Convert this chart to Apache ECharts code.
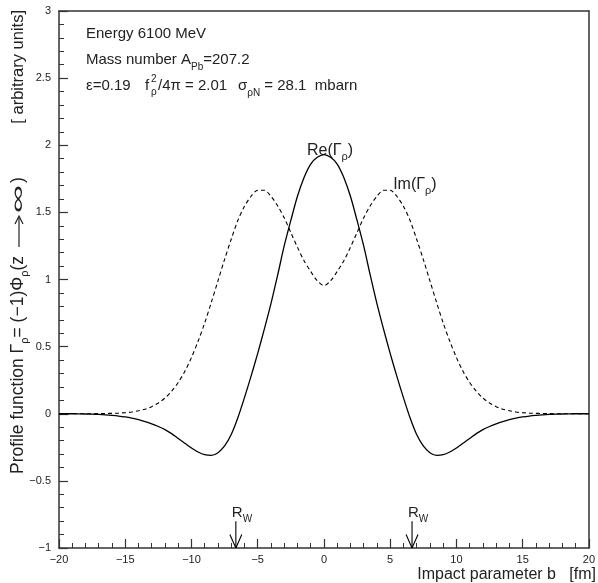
<!DOCTYPE html>
<html><head><meta charset="utf-8">
<script src="https://cdn.jsdelivr.net/npm/echarts@6/dist/echarts.min.js"></script>
<style>html,body{margin:0;padding:0;background:#fff}#c{width:598px;height:583px}</style>
</head><body><div id="c"></div>
<script>
// ---- data ----
var bValues = [-20,-19.5,-19,-18.5,-18,-17.5,-17,-16.5,-16,-15.5,-15,-14.5,-14,-13.5,-13,-12.5,-12,-11.5,-11,-10.5,-10,-9.5,-9,-8.5,-8,-7.5,-7,-6.5,-6,-5.5,-5,-4.5,-4,-3.5,-3,-2.5,-2,-1.5,-1,-0.5,0,0.5,1,1.5,2,2.5,3,3.5,4,4.5,5,5.5,6,6.5,7,7.5,8,8.5,9,9.5,10,10.5,11,11.5,12,12.5,13,13.5,14,14.5,15,15.5,16,16.5,17,17.5,18,18.5,19,19.5,20];
var reValues = [0,0,0,-0.001,-0.002,-0.003,-0.005,-0.008,-0.012,-0.017,-0.024,-0.033,-0.044,-0.058,-0.075,-0.095,-0.118,-0.148,-0.185,-0.22,-0.255,-0.285,-0.305,-0.31,-0.29,-0.24,-0.155,-0.03,0.12,0.28,0.45,0.63,0.82,1.03,1.25,1.44,1.62,1.76,1.86,1.91,1.93,1.91,1.86,1.76,1.62,1.44,1.25,1.03,0.82,0.63,0.45,0.28,0.12,-0.03,-0.155,-0.24,-0.29,-0.31,-0.305,-0.285,-0.255,-0.22,-0.185,-0.148,-0.118,-0.095,-0.075,-0.058,-0.044,-0.033,-0.024,-0.017,-0.012,-0.008,-0.005,-0.003,-0.002,-0.001,0,0,0];
var imValues = [0,0,0,0,0,0,0.001,0.002,0.003,0.005,0.008,0.013,0.022,0.034,0.053,0.08,0.117,0.168,0.233,0.316,0.419,0.54,0.677,0.83,0.99,1.15,1.30,1.44,1.545,1.62,1.665,1.665,1.62,1.55,1.46,1.35,1.24,1.14,1.06,0.99,0.955,0.99,1.06,1.14,1.24,1.35,1.46,1.55,1.62,1.665,1.665,1.62,1.545,1.44,1.30,1.15,0.99,0.83,0.677,0.54,0.419,0.316,0.233,0.168,0.117,0.08,0.053,0.034,0.022,0.013,0.008,0.005,0.003,0.002,0.001,0,0,0,0,0,0];
var rwPositions = [-6.65, 6.65];

function pairs(xs, ys){ return xs.map(function(x,i){return [x, ys[i]];}); }
function fmt(v){ return v < 0 ? '\u2212' + String(-v) : String(v); }

var FONT = 'Liberation Sans';
var AX = '#333';
var TXT = '#222';
var chart = echarts.init(document.getElementById('c'), null, {renderer:'canvas'});

var series = [
  {type:'line', data: pairs(bValues, reValues), smooth: 0.3, showSymbol:false, symbol:'none',
   lineStyle:{color:'#000', width:1.3, type:'solid'}, z:3},
  {type:'line', data: pairs(bValues, imValues), smooth: 0.3, showSymbol:false, symbol:'none',
   lineStyle:{color:'#000', width:1.1, type:[4,3]}, z:3}
];
rwPositions.forEach(function(p){
  series.push({type:'line', data:[[p,-0.8],[p,-1]], symbol:'none', lineStyle:{color:'#000', width:1.1}});
  series.push({type:'line', data:[[p-0.45,-0.9],[p,-1],[p+0.45,-0.9]], symbol:'none', lineStyle:{color:'#000', width:1.1}});
});

chart.setOption({
  animation:false,
  grid: {left:59, right:2, top:11, bottom:35, containLabel:false},
  xAxis: [
    {type:'value', min:-20, max:20, interval:5, position:'bottom',
     axisLine:{onZero:false, lineStyle:{color:AX, width:1.5}},
     axisTick:{inside:true, length:9, lineStyle:{color:AX, width:1.2}},
     minorTick:{show:true, splitNumber:5, length:5, lineStyle:{color:AX, width:1}},
     axisLabel:{fontFamily:FONT, fontSize:11, color:TXT, margin:6, formatter:fmt},
     splitLine:{show:false}},
    {type:'value', min:-20, max:20, position:'top',
     axisLine:{onZero:false, lineStyle:{color:AX, width:1.5}},
     axisTick:{show:false}, axisLabel:{show:false}, splitLine:{show:false}}
  ],
  yAxis: [
    {type:'value', min:-1, max:3, interval:0.5, position:'left',
     axisLine:{onZero:false, lineStyle:{color:AX, width:1.5}},
     axisTick:{inside:true, length:9, lineStyle:{color:AX, width:1.2}},
     minorTick:{show:true, splitNumber:5, length:5, lineStyle:{color:AX, width:1}},
     axisLabel:{fontFamily:FONT, fontSize:11, color:TXT, margin:8, formatter:fmt},
     splitLine:{show:false}},
    {type:'value', min:-1, max:3, position:'right',
     axisLine:{onZero:false, lineStyle:{color:AX, width:1.5}},
     axisTick:{show:false}, axisLabel:{show:false}, splitLine:{show:false}}
  ],
  series: series
});

function px(x,y){ return chart.convertToPixel({gridIndex:0}, [x,y]); }
function mkRich(fs, ss){
  return {
    n:{fontFamily:FONT, fontSize:fs, fill:TXT, color:TXT, lineHeight:24, verticalAlign:'middle'},
    s:{fontFamily:FONT, fontSize:ss, fill:TXT, color:TXT, lineHeight:ss, verticalAlign:'bottom'},
    u:{fontFamily:FONT, fontSize:ss, fill:TXT, color:TXT, lineHeight:ss, verticalAlign:'top'}
  };
}
function txt(str, x, y, opts){
  opts = opts || {};
  var o = {type:'text', x:x, y:y, silent:true,
    style:{text:str, rich:mkRich(opts.fs||15, opts.ss||10), fontFamily:FONT, fontSize:opts.fs||15, fill:TXT,
      align:opts.align||'left', verticalAlign:opts.va||'middle'}};
  if (opts.rotation) o.rotation = opts.rotation;
  if (opts.scaleX) o.scaleX = opts.scaleX;
  return o;
}
var g = [];
g.push(txt('{n|Energy 6100 MeV}', 86, 34));
g.push(txt('{n|Mass number A}{s|Pb}{n|=207.2}', 86, 60));
// third line, pieces
g.push(txt('{n|\u03b5=0.19}', 86, 86));
g.push(txt('{n|f}', 145, 86));
g.push(txt('\u03c1', 151, 92, {fs:10}));
g.push(txt('2', 151, 79, {fs:10}));
g.push(txt('{n|/4\u03c0 = 2.01}', 158, 86));
g.push(txt('{n|\u03c3}{s|\u03c1N}{n| = 28.1  mbarn}', 238, 86));

var pRe = px(0, 1.95);
g.push(txt('{n|Re(\u0393}{s|\u03c1}{n|)}', pRe[0]-17, pRe[1]-1, {fs:16, ss:11}));
var pIm = px(5.0, 1.72);
g.push(txt('{n|Im(\u0393}{s|\u03c1}{n|)}', pIm[0]+3, pIm[1]+2, {fs:16, ss:11}));
rwPositions.forEach(function(p){
  var q = px(p, -0.72);
  g.push(txt('{n|R}{s|W}', q[0]-4, q[1]+2));
});
g.push(txt('{n|Impact parameter b   [fm]}', 596, 575, {align:'right', fs:16}));
// vertical axis title (reads bottom -> top)
g.push(txt('{n|Profile function \u0393}{s|\u03c1}{n|= (\u22121)\u03a6}{s|\u03c1}{n|(z}', 18, 474, {align:'left', rotation:Math.PI/2, fs:17.5, ss:11}));
g.push({type:'polyline', silent:true, shape:{points:[[19,247],[19,217]]}, style:{stroke:TXT, lineWidth:1.2, fill:null}});
g.push({type:'polyline', silent:true, shape:{points:[[15,224],[19,216],[23,224]]}, style:{stroke:TXT, lineWidth:1.2, fill:null}});
g.push(txt('\u221e', 18, 199, {align:'center', rotation:Math.PI/2, fs:20, scaleX:2.0}));
g.push(txt(')', 18, 183, {align:'left', rotation:Math.PI/2, fs:17.5}));
g.push(txt('{n|[ arbitrary units]}', 18, 10, {align:'right', rotation:Math.PI/2, fs:16.5}));
chart.setOption({graphic: g});
</script>
</body></html>
